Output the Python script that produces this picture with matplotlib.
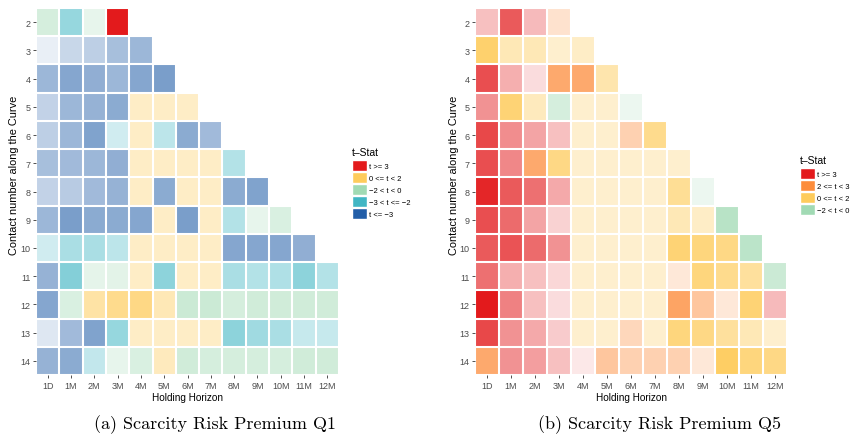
import numpy as np
import matplotlib
matplotlib.use("Agg")
import matplotlib.pyplot as plt
from matplotlib.colors import to_rgb
from matplotlib.patches import Patch

plt.rcParams['font.family'] = ['Liberation Sans', 'DejaVu Sans']

horizons = ["1D", "1M", "2M", "3M", "4M", "5M", "6M", "7M", "8M", "9M", "10M", "11M", "12M"]
contracts = list(range(2, 15))

# t-statistics, one row per contract (2..14), one column per holding horizon;
# rows are cut short where the horizon runs past the curve
tstat_q1 = [
    [-0.9, -2.55, -0.5, 7.0],
    [-3.4, -4.0, -4.2, -4.6, -4.8],
    [-4.8, -5.2, -5.0, -4.8, -5.2, -5.4],
    [-4.1, -4.8, -4.9, -5.1, 0.7, 0.7, 0.7],
    [-4.2, -4.8, -5.3, -2.25, 0.7, -2.35, -5.1, -4.7],
    [-4.6, -4.7, -4.8, -5.0, 0.7, 0.7, 0.7, 0.7, -2.4],
    [-4.1, -4.3, -4.7, -4.9, 0.7, -5.1, 0.7, 0.7, -5.1, -5.3],
    [-4.8, -5.4, -5.1, -5.1, -5.2, 0.7, -5.4, 0.7, -2.4, -0.5, -0.8],
    [-2.25, -2.45, -2.45, -2.35, 0.7, 0.7, 0.7, 0.7, -5.2, -5.2, -5.2, -5.0],
    [-4.9, -2.65, -0.55, -0.6, 0.7, -2.6, 0.7, 0.7, -2.45, -2.4, -2.42, -2.6, -2.4],
    [-5.2, -0.8, 1.1, 1.4, 1.5, 0.9, -1.1, -1.1, -0.9, -1.0, -1.0, -1.0, -1.0],
    [-3.6, -4.7, -5.3, -2.55, 0.7, 0.7, 0.7, 0.7, -2.6, -2.5, -2.45, -2.3, -2.3],
    [-4.9, -5.1, -2.32, -0.5, -0.8, 0.8, -1.0, -0.9, -0.9, -0.9, -0.9, -1.0, -1.0],
]

tstat_q5 = [
    [4.1, 5.9, 4.2, 2.25],
    [1.8, 0.9, 0.9, 0.6, 0.7],
    [6.1, 4.4, 3.6, 2.75, 2.75, 1.0],
    [4.9, 1.7, 0.8, -0.9, 0.6, 0.6, -0.4],
    [6.2, 5.0, 4.6, 4.1, 0.6, 0.6, 2.4, 1.4],
    [6.1, 5.1, 2.75, 1.5, 0.6, 0.6, 0.6, 0.6, 0.6],
    [6.8, 5.9, 5.5, 4.5, 0.6, 0.6, 0.6, 0.6, 1.3, -0.4],
    [6.1, 5.6, 4.6, 3.8, 0.6, 0.6, 0.6, 0.6, 0.9, 0.7, -1.5],
    [5.9, 6.0, 5.6, 4.9, 0.6, 0.6, 0.6, 0.6, 1.7, 1.6, 1.5, -1.45],
    [5.5, 4.4, 4.1, 3.7, 0.6, 0.6, 0.6, 0.6, 2.2, 1.6, 1.4, 1.2, -1.1],
    [7.0, 5.2, 4.1, 3.6, 0.6, 0.6, 0.6, 0.6, 2.8, 2.5, 2.2, 1.7, 4.2],
    [6.2, 4.9, 4.5, 3.9, 0.6, 0.6, 2.35, 0.6, 1.6, 1.5, 1.2, 0.9, 0.6],
    [2.75, 4.9, 4.7, 4.1, 3.4, 2.5, 2.4, 2.4, 2.4, 2.2, 1.9, 1.6, 1.5],
]

# significance bands: label, colour, lower bound of |t| for shading, span of shading
bands = [
    ("t >= 3", "#E31A1C", 3.0, 4.0),
    ("2 <= t < 3", "#FD8D3C", 2.0, 1.0),
    ("0 <= t < 2", "#FECC5C", 0.0, 2.0),
    ("\u22122 < t < 0", "#A1DAB4", 0.0, 2.0),
    ("\u22123 < t <= \u22122", "#41B6C4", 2.0, 1.0),
    ("t <= \u22123", "#225EA8", 3.0, 4.0),
]


def band_of(t):
    if t >= 3:
        return 0
    if t >= 2:
        return 1
    if t >= 0:
        return 2
    if t > -2:
        return 3
    if t > -3:
        return 4
    return 5


def to_rgba_grid(rows):
    grid = np.ones((len(contracts), len(horizons), 4))
    grid[..., 3] = 0
    used = set()
    for i, row in enumerate(rows):
        for j, t in enumerate(row):
            b = band_of(t)
            used.add(b)
            _, col, lo, span = bands[b]
            alpha = np.clip((abs(t) - lo) / span, 0.08, 1.0)
            grid[i, j, :3] = to_rgb(col)
            grid[i, j, 3] = alpha
    return grid, sorted(used)


def draw_panel(ax, rows, legend_xy, caption, caption_x, ylabel_x):
    grid, used = to_rgba_grid(rows)
    ax.imshow(grid, aspect="auto", interpolation="nearest")
    # white gaps between the tiles
    ax.set_xticks(np.arange(-0.5, len(horizons), 1), minor=True)
    ax.set_yticks(np.arange(-0.5, len(contracts), 1), minor=True)
    ax.grid(which="minor", color="white", linewidth=1.5)
    ax.tick_params(which="minor", length=0)
    ax.set_xticks(range(len(horizons)))
    ax.set_xticklabels(horizons)
    ax.set_yticks(range(len(contracts)))
    ax.set_yticklabels(contracts)
    ax.tick_params(which="major", length=2, width=0.6, color="#333333",
                   labelsize=6.5, labelcolor="#4D4D4D", pad=2)
    for s in ax.spines.values():
        s.set_visible(False)
    ax.set_xlabel("Holding Horizon", fontsize=7.2, labelpad=2)
    ax.set_ylabel("Contact number along the Curve", fontsize=7.9)
    ax.yaxis.set_label_coords(ylabel_x, 0.548)

    handles = [Patch(facecolor=bands[b][1], edgecolor="white") for b in used]
    labels = [bands[b][0] for b in used]
    leg = ax.figure.legend(handles, labels, loc="upper left", bbox_to_anchor=legend_xy,
                           frameon=False, title="t\u2013Stat", fontsize=5.5,
                           title_fontsize=7.5, handlelength=2.0, handleheight=1.95,
                           handletextpad=0.2, labelspacing=0.05, borderaxespad=0,
                           borderpad=0, alignment="left")
    leg._legend_box.sep = 2

    ax.figure.text(caption_x, 14 / 439, caption, ha="center", va="center",
                   fontsize=13, family="cmr10")


fig = plt.figure(figsize=(8.51, 4.39), dpi=100)
W, H = 851, 439
ax1 = fig.add_axes([36 / W, (H - 376) / H, 303 / W, 367 / H])
ax2 = fig.add_axes([475 / W, (H - 376) / H, 312 / W, 367 / H])

draw_panel(ax1, tstat_q1, (352 / W, 1 - 148 / H), "(a) Scarcity Risk Premium Q1",
           215 / W, -0.056)
draw_panel(ax2, tstat_q5, (800 / W, 1 - 156 / H), "(b) Scarcity Risk Premium Q5",
           660 / W, -0.051)

fig.savefig("out.png", dpi=100)
